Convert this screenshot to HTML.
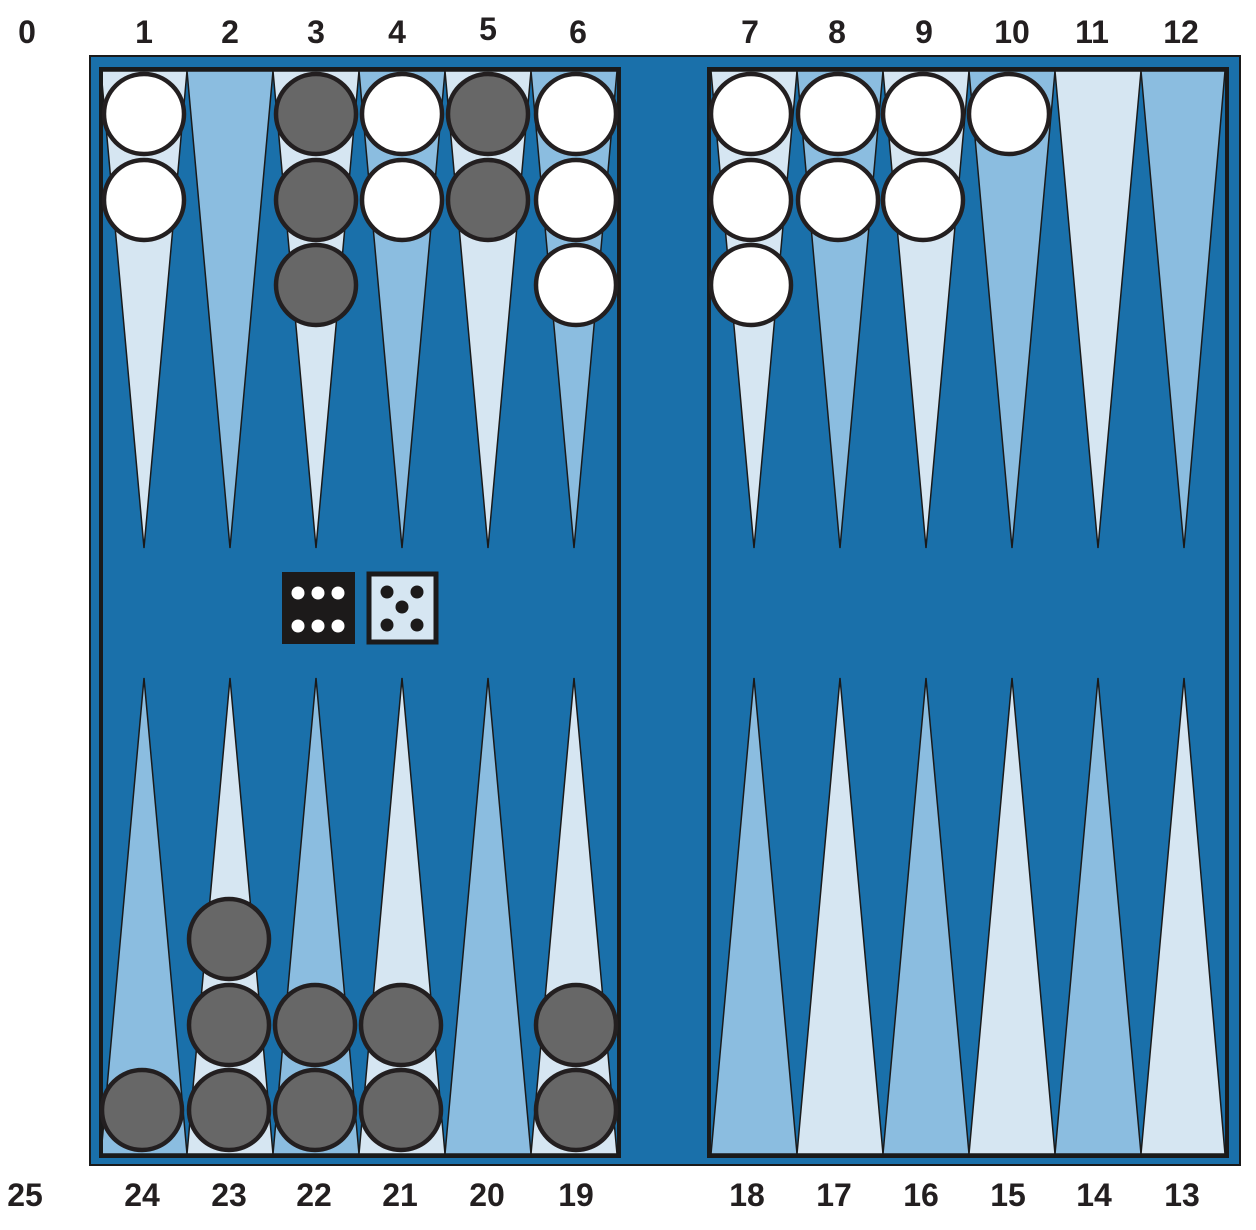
<!DOCTYPE html>
<html><head><meta charset="utf-8"><style>
html,body{margin:0;padding:0;background:#fff;width:1256px;height:1230px;overflow:hidden}
text{font-family:"Liberation Sans",sans-serif;font-weight:bold;font-size:32px;fill:#231f20;text-anchor:middle}
</style></head><body>
<svg width="1256" height="1230" viewBox="0 0 1256 1230" xmlns="http://www.w3.org/2000/svg">
<rect x="90" y="56" width="1150" height="1109" fill="#1a70aa" stroke="#1a1a1a" stroke-width="2"/>
<rect x="101" y="69" width="518" height="1087" fill="#1a70aa" stroke="#1a1a1a" stroke-width="4"/>
<rect x="709" y="69" width="518" height="1087" fill="#1a70aa" stroke="#1a1a1a" stroke-width="4"/>
<g stroke="#1a1a1a" stroke-width="1.5">
<!-- top left -->
<polygon points="101,71 187,71 144,548" fill="#d6e6f2"/>
<polygon points="187,71 273,71 230,548" fill="#8bbde0"/>
<polygon points="273,71 359,71 316,548" fill="#d6e6f2"/>
<polygon points="359,71 445,71 402,548" fill="#8bbde0"/>
<polygon points="445,71 531,71 488,548" fill="#d6e6f2"/>
<polygon points="531,71 617,71 574,548" fill="#8bbde0"/>
<!-- top right -->
<polygon points="711,71 797,71 754,548" fill="#d6e6f2"/>
<polygon points="797,71 883,71 840,548" fill="#8bbde0"/>
<polygon points="883,71 969,71 926,548" fill="#d6e6f2"/>
<polygon points="969,71 1055,71 1012,548" fill="#8bbde0"/>
<polygon points="1055,71 1141,71 1098,548" fill="#d6e6f2"/>
<polygon points="1141,71 1225,71 1184,548" fill="#8bbde0"/>
<!-- bottom left -->
<polygon points="101,1154 187,1154 144,678" fill="#8bbde0"/>
<polygon points="187,1154 273,1154 230,678" fill="#d6e6f2"/>
<polygon points="273,1154 359,1154 316,678" fill="#8bbde0"/>
<polygon points="359,1154 445,1154 402,678" fill="#d6e6f2"/>
<polygon points="445,1154 531,1154 488,678" fill="#8bbde0"/>
<polygon points="531,1154 617,1154 574,678" fill="#d6e6f2"/>
<!-- bottom right -->
<polygon points="711,1154 797,1154 754,678" fill="#8bbde0"/>
<polygon points="797,1154 883,1154 840,678" fill="#d6e6f2"/>
<polygon points="883,1154 969,1154 926,678" fill="#8bbde0"/>
<polygon points="969,1154 1055,1154 1012,678" fill="#d6e6f2"/>
<polygon points="1055,1154 1141,1154 1098,678" fill="#8bbde0"/>
<polygon points="1141,1154 1225,1154 1184,678" fill="#d6e6f2"/>
</g>
<rect x="101" y="69" width="518" height="1087" fill="none" stroke="#1a1a1a" stroke-width="4"/>
<rect x="709" y="69" width="518" height="1087" fill="none" stroke="#1a1a1a" stroke-width="4"/>
<g stroke="#231f20" stroke-width="4.5">
<g fill="#fff">
<circle cx="144" cy="114" r="40"/><circle cx="144" cy="200" r="40"/>
<circle cx="402" cy="114" r="40"/><circle cx="402" cy="200" r="40"/>
<circle cx="576" cy="114" r="40"/><circle cx="576" cy="200" r="40"/><circle cx="576" cy="285" r="40"/>
<circle cx="751" cy="114" r="40"/><circle cx="751" cy="200" r="40"/><circle cx="751" cy="285" r="40"/>
<circle cx="838" cy="114" r="40"/><circle cx="838" cy="200" r="40"/>
<circle cx="923" cy="114" r="40"/><circle cx="923" cy="200" r="40"/>
<circle cx="1009" cy="114" r="40"/>
</g>
<g fill="#676767">
<circle cx="316" cy="114" r="40"/><circle cx="316" cy="200" r="40"/><circle cx="316" cy="285" r="40"/>
<circle cx="488" cy="114" r="40"/><circle cx="488" cy="200" r="40"/>
<circle cx="142" cy="1110" r="40"/>
<circle cx="229" cy="1110" r="40"/><circle cx="229" cy="1025" r="40"/><circle cx="229" cy="939" r="40"/>
<circle cx="315" cy="1110" r="40"/><circle cx="315" cy="1025" r="40"/>
<circle cx="401" cy="1110" r="40"/><circle cx="401" cy="1025" r="40"/>
<circle cx="576" cy="1110" r="40"/><circle cx="576" cy="1025" r="40"/>
</g>
</g>
<rect x="282" y="572" width="73" height="72" fill="#1c1a1a"/>
<g fill="#fff"><circle cx="298" cy="593" r="6.5"/><circle cx="318" cy="593" r="6.5"/><circle cx="338" cy="593" r="6.5"/>
<circle cx="298" cy="626" r="6.5"/><circle cx="318" cy="626" r="6.5"/><circle cx="338" cy="626" r="6.5"/></g>
<rect x="369" y="574" width="67" height="68" fill="#d6e6f2" stroke="#1c1a1a" stroke-width="5"/>
<g fill="#1c1a1a"><circle cx="387" cy="592" r="6.5"/><circle cx="417" cy="592" r="6.5"/><circle cx="402" cy="607" r="6.5"/>
<circle cx="387" cy="625" r="6.5"/><circle cx="417" cy="625" r="6.5"/></g>
<g>
<text x="27" y="43">0</text><text x="144" y="43">1</text><text x="230" y="43">2</text><text x="316" y="43">3</text>
<text x="397" y="43">4</text><text x="488" y="40">5</text><text x="578" y="43">6</text><text x="750" y="43">7</text>
<text x="837" y="43">8</text><text x="924" y="43">9</text><text x="1012" y="43">10</text><text x="1092" y="43">11</text>
<text x="1181" y="43">12</text>
<text x="25" y="1206">25</text><text x="142" y="1206">24</text><text x="229" y="1206">23</text><text x="314" y="1206">22</text>
<text x="400" y="1206">21</text><text x="487" y="1206">20</text><text x="576" y="1206">19</text><text x="747" y="1206">18</text>
<text x="834" y="1206">17</text><text x="921" y="1206">16</text><text x="1008" y="1206">15</text><text x="1094" y="1206">14</text>
<text x="1182" y="1206">13</text>
</g>
</svg>
</body></html>
